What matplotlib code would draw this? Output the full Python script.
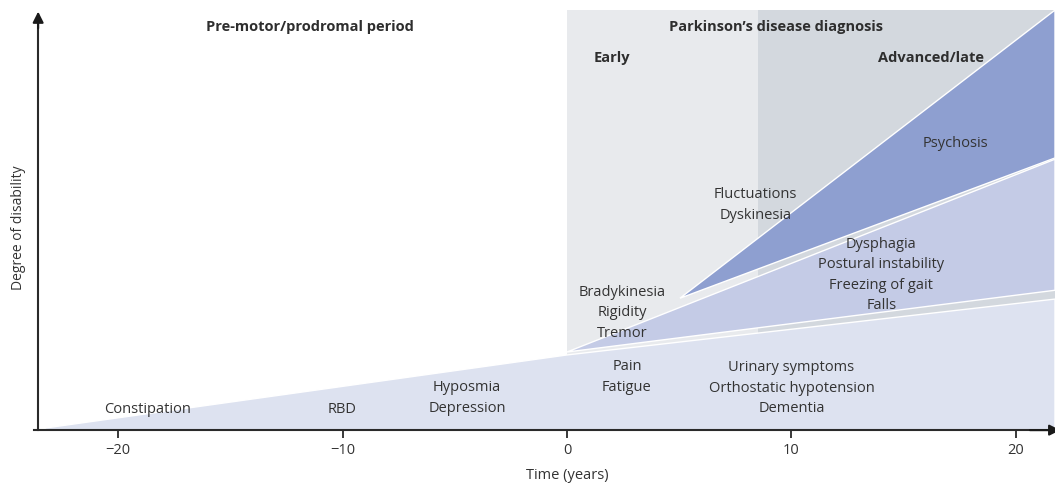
import matplotlib.pyplot as plt
from matplotlib.patches import Polygon, Rectangle

plt.rcParams['font.family'] = ['Open Sans', 'DejaVu Sans']

# ---- data (x = time in years, y = degree of disability, 0..100) ----
x_left, x_right = -25.26, 21.74
y_bottom, y_top = -13.3, 102.4
axis_x = -23.56

early_span = (0, 8.5)
late_span = (8.5, x_right)
diag_top = 100

# wedges: boundary points
light_top = [(-23.25, 0.5), (0, 17.9), (x_right, 31.2)]
medium_tip = (0, 18.6)
medium_upper = (x_right, 64.5)
medium_lower = (x_right, 33.3)
dark_tip = (5.03, 31.4)
dark_upper = (x_right, 100)
dark_lower = (x_right, 64.8)

xticks = [-20, -10, 0, 10, 20]

headers = [
    ("Pre-motor/prodromal period", -11.45, 96),
    ("Parkinson\u2019s disease diagnosis", 9.3, 96),
    ("Early", 2.0, 88.6),
    ("Advanced/late", 16.2, 88.6),
]
symptoms = [
    ("Constipation", -18.7, 5.0),
    ("RBD", -10.0, 5.0),
    ("Hyposmia\nDepression", -4.45, 7.6),
    ("Pain\nFatigue", 2.67, 12.6),
    ("Urinary symptoms\nOrthostatic hypotension\nDementia", 10.0, 10.0),
    ("Bradykinesia\nRigidity\nTremor", 2.45, 27.9),
    ("Fluctuations\nDyskinesia", 8.4, 53.6),
    ("Dysphagia\nPostural instability\nFreezing of gait\nFalls", 14.0, 36.9),
    ("Psychosis", 17.3, 68.3),
]

# colours
early_col = '#e8eaed'
late_col = '#d3d8de'
light_col = '#dde2f0'
medium_col = '#c4cbe6'
dark_col = '#8e9fd0'
text_col = '#333333'

fig = plt.figure(figsize=(10.55, 4.86), dpi=100)
ax = fig.add_axes([0, 0, 1, 1])
ax.set_xlim(x_left, x_right)
ax.set_ylim(y_bottom, y_top)

# background stages
ax.add_patch(Rectangle((early_span[0], 0), early_span[1] - early_span[0], diag_top,
                       facecolor=early_col, edgecolor='none', zorder=1))
ax.add_patch(Rectangle((late_span[0], 0), late_span[1] - late_span[0], diag_top,
                       facecolor=late_col, edgecolor='none', zorder=1))

# wedges
light_pts = [(light_top[0][0], 0)] + light_top + [(x_right, 0)]
ax.add_patch(Polygon(light_pts, closed=True, facecolor=light_col,
                     edgecolor='white', linewidth=1.0, zorder=2))
ax.add_patch(Polygon([medium_tip, medium_upper, medium_lower], closed=True,
                     facecolor=medium_col, edgecolor='white', linewidth=1.0, zorder=3))
ax.add_patch(Polygon([dark_tip, dark_upper, dark_lower], closed=True,
                     facecolor=dark_col, edgecolor='white', linewidth=1.0, zorder=4))

# axes lines
for side in ['top', 'right']:
    ax.spines[side].set_visible(False)
ax.spines['bottom'].set_position(('data', 0))
ax.spines['bottom'].set_bounds(-23.75, x_right)
ax.spines['left'].set_position(('data', axis_x))
ax.spines['left'].set_bounds(0, 98)
for side in ['bottom', 'left']:
    ax.spines[side].set_linewidth(1.5)
    ax.spines[side].set_color('#2a2a2a')
    ax.spines[side].set_zorder(6)

ax.set_xticks(xticks)
ax.set_yticks([])
ax.tick_params(axis='x', direction='out', length=6, width=1.3, color='#2a2a2a',
               labelsize=10.5, labelcolor=text_col, pad=3.5)

# arrowheads
ax.annotate('', xy=(axis_x, 100.3), xytext=(axis_x, 95),
            arrowprops=dict(arrowstyle='-|>', lw=1.5, color='#1a1a1a', mutation_scale=16),
            annotation_clip=False, zorder=7)
ax.annotate('', xy=(22.1, 0), xytext=(20.5, 0),
            arrowprops=dict(arrowstyle='-|>', lw=1.5, color='#1a1a1a', mutation_scale=16),
            annotation_clip=False, zorder=7)

# axis titles
ax.text(0, -10.7, "Time (years)", ha='center', va='center', fontsize=10.5, color=text_col)
ax.text(-24.45, 48.1, "Degree of disability", ha='center', va='center', rotation=90,
        fontsize=10, color=text_col)

for label, x, y in headers:
    ax.text(x, y, label, ha='center', va='center', fontsize=10.5, fontweight='bold',
            color='#2e2e2e', zorder=8)
for label, x, y in symptoms:
    ax.text(x, y, label, ha='center', va='center', fontsize=10.5, color=text_col,
            linespacing=1.5, zorder=8)

fig.savefig('out.png', dpi=100)
